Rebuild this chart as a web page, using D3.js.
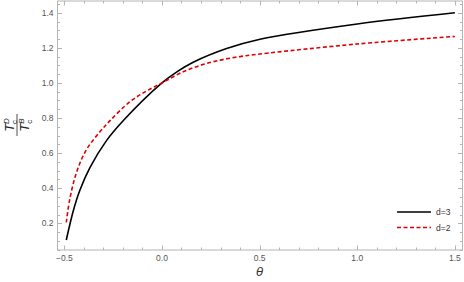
<!DOCTYPE html>
<html>
<head>
<meta charset="utf-8">
<script src="https://cdn.jsdelivr.net/npm/d3@7"></script>
<style>
  body { margin: 0; background: #fff; }
  svg { display: block; font-family: "Liberation Sans", Arial, sans-serif; }
</style>
</head>
<body>
<div id="chart"></div>
<script>
const width = 464;
const height = 282;

// valores
const thetaD3 = [-0.49, -0.453, -0.42, -0.369, -0.285, -0.2, 0, 0.08, 0.16, 0.331, 0.502, 1.0, 1.5];
const ratioD3 = [0.105, 0.276, 0.39, 0.518, 0.67, 0.783, 1.0, 1.066, 1.118, 1.196, 1.249, 1.336, 1.40];
const thetaD2 = [-0.49, -0.473, -0.439, -0.388, -0.319, -0.266, -0.164, -0.082, 0, 0.092, 0.195, 0.297, 0.399, 0.502, 1.0, 1.5];
const ratioD2 = [0.205, 0.333, 0.485, 0.618, 0.72, 0.785, 0.893, 0.952, 1.0, 1.055, 1.1, 1.13, 1.15, 1.165, 1.222, 1.265];
const xTicks = [-0.5, 0.0, 0.5, 1.0, 1.5];
const yTicks = [0.2, 0.4, 0.6, 0.8, 1.0, 1.2, 1.4];
const seriesNames = ["d=3", "d=2"];

const frame = { left: 57.5, right: 462.5, top: 1, bottom: 250 };

const svg = d3.select("#chart").append("svg")
    .attr("width", width)
    .attr("height", height);

const x = d3.scaleLinear().domain([-0.535, 1.539]).range([frame.left, frame.right]);
const y = d3.scaleLinear().domain([0.048, 1.467]).range([frame.bottom, frame.top]);

const frameColor = "#b4b4b4";
const textColor = "#555";

// ticks menores
const xMinor = d3.range(-0.5, 1.5001, 0.1).map(d => +d.toFixed(2));
const yMinor = d3.range(0.05, 1.4501, 0.05).map(d => +d.toFixed(2));

function isMajor(v, list) {
    return list.some(t => Math.abs(t - v) < 1e-6);
}

const ticks = svg.append("g").attr("stroke", frameColor).attr("stroke-width", 1);

xMinor.forEach(v => {
    const len = isMajor(v, xTicks) ? 4.5 : 2.5;
    const px = Math.round(x(v)) + 0.5;
    ticks.append("line").attr("x1", px).attr("x2", px)
        .attr("y1", frame.bottom).attr("y2", frame.bottom - len);
    ticks.append("line").attr("x1", px).attr("x2", px)
        .attr("y1", frame.top).attr("y2", frame.top + len);
});

yMinor.forEach(v => {
    const len = isMajor(v, yTicks) ? 4.5 : 2.5;
    const py = Math.round(y(v)) + 0.5;
    ticks.append("line").attr("y1", py).attr("y2", py)
        .attr("x1", frame.left).attr("x2", frame.left + len);
    ticks.append("line").attr("y1", py).attr("y2", py)
        .attr("x1", frame.right).attr("x2", frame.right - len);
});

// moldura
svg.append("rect")
    .attr("x", frame.left).attr("y", frame.top)
    .attr("width", frame.right - frame.left)
    .attr("height", frame.bottom - frame.top)
    .attr("fill", "none")
    .attr("stroke", frameColor)
    .attr("stroke-width", 1);

// rótulos dos ticks
svg.append("g").selectAll("text")
    .data(xTicks)
    .enter().append("text")
    .attr("x", d => x(d))
    .attr("y", frame.bottom + 11)
    .attr("text-anchor", "middle")
    .attr("font-size", 8.5)
    .attr("fill", textColor)
    .text(d => d3.format(".1f")(d).replace("-", "\u2212"));

svg.append("g").selectAll("text")
    .data(yTicks)
    .enter().append("text")
    .attr("x", frame.left - 4)
    .attr("y", d => y(d) + 3)
    .attr("text-anchor", "end")
    .attr("font-size", 8.5)
    .attr("fill", textColor)
    .text(d => d3.format(".1f")(d));

// curvas
const line = d3.line()
    .x(d => x(d[0]))
    .y(d => y(d[1]))
    .curve(d3.curveCatmullRom.alpha(0.5));

const dataD3 = thetaD3.map((t, i) => [t, ratioD3[i]]);
const dataD2 = thetaD2.map((t, i) => [t, ratioD2[i]]);

svg.append("path")
    .datum(dataD3)
    .attr("d", line)
    .attr("fill", "none")
    .attr("stroke", "#000")
    .attr("stroke-width", 1.6);

svg.append("path")
    .datum(dataD2)
    .attr("d", line)
    .attr("fill", "none")
    .attr("stroke", "#e00000")
    .attr("stroke-width", 1.6)
    .attr("stroke-dasharray", "4,2.5");

// legenda
const legend = svg.append("g").attr("transform", "translate(397,212)");
const legendStyles = [
    { color: "#000", dash: null },
    { color: "#e00000", dash: "4,2.5" }
];
seriesNames.forEach((name, i) => {
    const g = legend.append("g").attr("transform", `translate(0,${i * 15.5})`);
    g.append("line")
        .attr("x1", 0).attr("x2", 34)
        .attr("stroke", legendStyles[i].color)
        .attr("stroke-width", 1.6)
        .attr("stroke-dasharray", legendStyles[i].dash);
    g.append("text")
        .attr("x", 39).attr("y", 3)
        .attr("font-size", 8.5)
        .attr("fill", "#333")
        .text(name);
});

// rótulo do eixo x
svg.append("text")
    .attr("x", x(0.5))
    .attr("y", 276)
    .attr("text-anchor", "middle")
    .attr("font-size", 13)
    .attr("font-style", "italic")
    .attr("fill", "#333")
    .text("θ");

// rótulo do eixo y: fração T_c^D / T_c^B
const yl = svg.append("g").attr("transform", "translate(17,125) rotate(-90)");
const num = yl.append("text")
    .attr("x", 0).attr("y", -3)
    .attr("text-anchor", "middle")
    .attr("fill", "#222")
    .attr("font-size", 13);
num.append("tspan").attr("font-style", "italic").text("T");
num.append("tspan").attr("font-size", 8).attr("dy", 2.5).text("c");
num.append("tspan").attr("font-size", 8).attr("font-style", "italic").attr("dx", -4).attr("dy", -8).text("D");

yl.append("line")
    .attr("x1", -11).attr("x2", 11)
    .attr("y1", 0).attr("y2", 0)
    .attr("stroke", "#222")
    .attr("stroke-width", 0.8);

const den = yl.append("text")
    .attr("x", 0).attr("y", 12)
    .attr("text-anchor", "middle")
    .attr("fill", "#222")
    .attr("font-size", 13);
den.append("tspan").attr("font-style", "italic").text("T");
den.append("tspan").attr("font-size", 8).attr("dy", 2.5).text("c");
den.append("tspan").attr("font-size", 8).attr("font-style", "italic").attr("dx", -4).attr("dy", -8).text("B");
</script>
</body>
</html>
